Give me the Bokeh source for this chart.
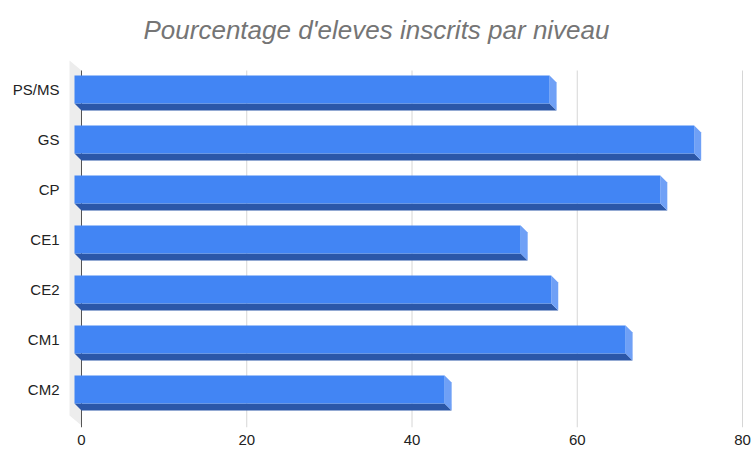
from bokeh.plotting import figure
from bokeh.models import Range1d, FixedTicker, Label
from bokeh.embed import file_html
from bokeh.resources import INLINE

# ---- data ----
categories = ["PS/MS", "GS", "CP", "CE1", "CE2", "CM1", "CM2"]
values = [57.5, 75.0, 70.9, 54.0, 57.7, 66.7, 44.8]
x_ticks = [0, 20, 40, 60, 80]
title_text = "Pourcentage d'eleves inscrits par niveau"

# ---- geometry (pixels of the picture) ----
PX_PER_X = 8.2625      # px per value unit
PX_PER_Y = 50.0        # px per category step
X0_PX = 81.0           # x of value 0 (back plane)
Y0_PX = 89.0           # y of first category centre (front face)

def xd(px):
    return (px - X0_PX) / PX_PER_X

def yd(py):
    return (py - Y0_PX) / PX_PER_Y

DX = 7 / PX_PER_X       # 3D depth offset, horizontal
DY = 7 / PX_PER_Y       # 3D depth offset, vertical
H = 28 / PX_PER_Y       # front face thickness

W, HT = 752, 449
frame_left = 62
frame_bottom = 427
p = figure(width=W, height=HT, output_backend="svg", toolbar_location=None,
           x_range=Range1d(xd(frame_left), xd(W)),
           y_range=Range1d(yd(frame_bottom), yd(0)),
           min_border_left=frame_left, min_border_right=0,
           min_border_top=0, min_border_bottom=HT - frame_bottom)
p.outline_line_color = None
p.background_fill_color = "white"
p.border_fill_color = "white"
p.xgrid.visible = False
p.ygrid.visible = False

# left wall
p.patch([xd(69), xd(81), xd(81), xd(69)], [yd(60), yd(70), yd(425), yd(415)],
        fill_color="#ededed", line_color=None)

# gridlines
gy0, gy1 = yd(70), yd(427)
others = [t for t in x_ticks if t != 0]
p.segment(x0=others, x1=others, y0=[gy0] * len(others), y1=[gy1] * len(others),
          line_color="#d6d6d6", line_width=1)
p.segment(x0=[0], x1=[0], y0=[gy0], y1=[gy1], line_color="#555555", line_width=1)

# bars (3D)
ks = list(range(len(categories)))
front_left = [-DX] * len(values)
front_right = [v - DX for v in values]
tops = [k - H / 2 for k in ks]
bots = [k + H / 2 for k in ks]

bottom_xs = [[-DX, v - DX, v, 0] for v in values]
bottom_ys = [[k + H / 2, k + H / 2, k + H / 2 + DY, k + H / 2 + DY] for k in ks]
p.patches(bottom_xs, bottom_ys, fill_color="#2b57a8", line_color=None)

side_xs = [[v - DX, v, v, v - DX] for v in values]
side_ys = [[k - H / 2, k - H / 2 + DY, k + H / 2 + DY, k + H / 2] for k in ks]
p.patches(side_xs, side_ys, fill_color="#6fa0f6", line_color=None)

p.quad(left=front_left, right=front_right, top=tops, bottom=bots,
       fill_color="#4285f4", line_color=None)

# axes
p.xaxis.ticker = FixedTicker(ticks=x_ticks)
p.xaxis.axis_line_color = None
p.xaxis.major_tick_line_color = None
p.xaxis.minor_tick_line_color = None
p.xaxis.major_tick_out = 0
p.xaxis.major_label_standoff = 7
p.xaxis.major_label_text_font = "Liberation Sans"
p.xaxis.major_label_text_font_size = "15px"
p.xaxis.major_label_text_color = "#222222"

p.yaxis.ticker = FixedTicker(ticks=ks)
p.yaxis.major_label_overrides = {k: c for k, c in zip(ks, categories)}
p.yaxis.axis_line_color = None
p.yaxis.major_tick_line_color = None
p.yaxis.minor_tick_line_color = None
p.yaxis.major_tick_out = 0
p.yaxis.major_label_standoff = 3
p.yaxis.major_label_text_font = "Liberation Sans"
p.yaxis.major_label_text_font_size = "15px"
p.yaxis.major_label_text_color = "#222222"

# title
p.add_layout(Label(x=xd(376), y=yd(29), text=title_text,
                   text_align="center", text_baseline="middle",
                   text_font="Liberation Sans", text_font_style="italic",
                   text_font_size="26px", text_color="#757575"))

open("out.html", "w").write(file_html(p, INLINE))
